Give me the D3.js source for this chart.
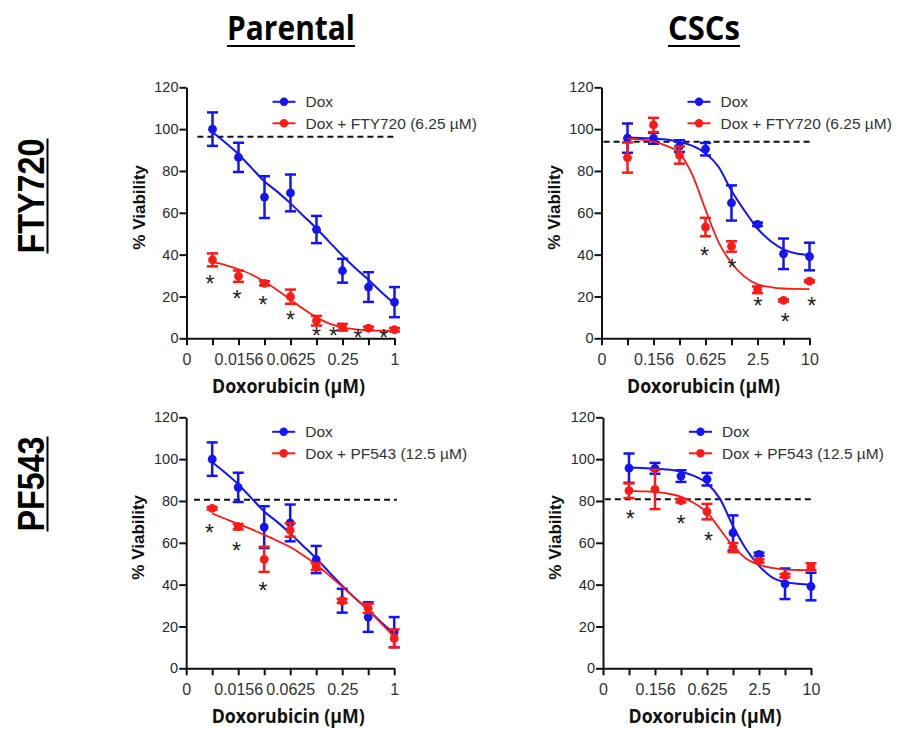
<!DOCTYPE html>
<html>
<head>
<meta charset="utf-8">
<script src="https://cdn.jsdelivr.net/npm/d3@7"></script>
<style>
body { margin: 0; background: #fff; }
text { font-family: 'Liberation Sans', Arial, sans-serif; }
</style>
</head>
<body>
<div id="chart"></div>
<script>

// doses (µM), one doubling per step
var doseParental = [0.0078125, 0.015625, 0.03125, 0.0625, 0.125, 0.25, 0.5, 1];
var doseCSC = [0.078125, 0.15625, 0.3125, 0.625, 1.25, 2.5, 5, 10];

// tick labels, first one sits at the "zero" position
var tickParental = ['0', '', '0.0156', '', '0.0625', '', '0.25', '', '1'];
var tickCSC = ['0', '', '0.156', '', '0.625', '', '2.5', '', '10'];

// mean % viability and error
var doxParental = [100, 86.5, 67.5, 69.5, 52, 32.3, 24.5, 17.3];
var doxParentalErr = [8, 7, 10, 8.8, 6.5, 5.7, 7.1, 7.2];
var fty720Parental = [37.5, 29.7, 26.3, 19.9, 8.4, 5.3, 4.8, 4.1];
var fty720ParentalErr = [3.1, 2.7, 1, 3.4, 2.3, 1.6, 0.8, 0.8];
var pf543Parental = [76.5, 67.7, 52.1, 66.1, 48.6, 32.2, 28.7, 14.3];
var pf543ParentalErr = [0.6, 1.3, 6, 3.2, 1.6, 1, 2.2, 4.3];

var doxCSC = [95.7, 95.6, 91.9, 90.4, 64.7, 54.5, 40.4, 39.1];
var doxCSCErr = [7, 2.6, 2.8, 3, 8.4, 0.8, 7.3, 6.6];
var fty720CSC = [86.4, 102, 87.6, 53.2, 43.9, 23.2, 18.1, 27.3];
var fty720CSCErr = [7.2, 3.4, 4.1, 4.4, 2.5, 1.6, 0.5, 0.5];
var pf543CSC = [84.9, 85.5, 80.1, 74.9, 57.7, 51.3, 44.3, 48.6];
var pf543CSCErr = [3.5, 9.4, 0.8, 3.7, 2.2, 0.8, 0.8, 1.6];

// fitted curves, every half step from first to last dose
var fitDoxParental = [98.5, 93.5, 88, 81.5, 75, 70, 64.5, 58.5, 52.5, 46, 39.5, 33.5, 28, 22, 16.5];
var fitFty720Parental = [36.5, 35, 33, 30.5, 27, 23, 18.5, 14, 10, 7, 5.2, 4.3, 3.8, 3.6, 3.5];
var fitPf543Parental = [74, 71.5, 69, 66.5, 63.8, 61, 58, 54, 49.5, 44.5, 39, 33.5, 27.8, 21.5, 15];
var fitDoxCSC1 = [96, 95.8, 95.5, 95, 93.8, 92, 88.5, 82, 70.5, 61, 52.5, 46.5, 42.5, 40.5, 39.8];
var fitFty720CSC = [95.5, 95, 94, 92, 88.5, 78, 61.5, 46, 36, 29.5, 25.8, 24.5, 23.8, 23.6, 23.5];
var fitDoxCSC2 = [96, 95.8, 95.5, 95, 94, 92, 88.5, 81, 68, 57, 49, 43.5, 41.2, 40.4, 40];
var fitPf543CSC = [84.8, 84.6, 84.3, 83.5, 82, 79, 74.5, 66.5, 58.5, 52.5, 49.5, 48, 47.2, 47, 46.8];

// significance marks [dose step (1 = first dose), % viability]
var starsA = [[0.9, 28.2], [1.94, 21.2], [2.94, 18.6], [4, 11.2], [5, 3.7], [5.65, 3.7], [6.6, 2.4], [7.59, 2.4]];
var starsB = [[3.96, 41.9], [5.02, 36], [6.02, 17.7], [7.07, 10.4], [8.09, 18.1]];
var starsC = [[0.9, 67.3], [1.93, 58.5], [2.95, 39.4]];
var starsD = [[1.05, 73.8], [3, 71.2], [4.06, 63.3]];

// dashed reference line [level, from step, to step]
var cutoffA = [96.4, 0.42, 8.07];
var cutoffB = [94, 0.08, 8.1];
var cutoffC = [80.6, 0.3, 8.1];
var cutoffD = [80.8, 0.07, 8.1];

var blue = '#1414f5';
var red = '#ff1a1a';

var svg = d3.select('#chart').append('svg')
    .attr('width', 897)
    .attr('height', 733);

// panel size
var pWidth = 208;
var pHeight = 251;

var panels = [
    {left: 186.5, top: 87.3, dose: doseParental, ticks: tickParental,
     a: doxParental, aErr: doxParentalErr, aFit: fitDoxParental,
     b: fty720Parental, bErr: fty720ParentalErr, bFit: fitFty720Parental,
     bName: 'Dox + FTY720 (6.25 µM)', stars: starsA, cutoff: cutoffA},
    {left: 601.5, top: 87.3, dose: doseCSC, ticks: tickCSC,
     a: doxCSC, aErr: doxCSCErr, aFit: fitDoxCSC1,
     b: fty720CSC, bErr: fty720CSCErr, bFit: fitFty720CSC,
     bName: 'Dox + FTY720 (6.25 µM)', stars: starsB, cutoff: cutoffB},
    {left: 186.2, top: 417.3, dose: doseParental, ticks: tickParental,
     a: doxParental, aErr: doxParentalErr, aFit: fitDoxParental,
     b: pf543Parental, bErr: pf543ParentalErr, bFit: fitPf543Parental,
     bName: 'Dox + PF543 (12.5 µM)', stars: starsC, cutoff: cutoffC},
    {left: 603, top: 417.3, dose: doseCSC, ticks: tickCSC,
     a: doxCSC, aErr: doxCSCErr, aFit: fitDoxCSC2,
     b: pf543CSC, bErr: pf543CSCErr, bFit: fitPf543CSC,
     bName: 'Dox + PF543 (12.5 µM)', stars: starsD, cutoff: cutoffD}
];

panels.forEach(drawPanel);

function drawPanel(p) {
    var g = svg.append('g')
        .attr('transform', `translate(${p.left}, ${p.top})`);

    var d0 = p.dose[0];
    var xScale = d3.scaleLog().base(2)
        .domain([d0 / 2, p.dose[p.dose.length - 1]])
        .range([0, pWidth]);
    var yScale = d3.scaleLinear()
        .domain([0, 120])
        .range([pHeight, 0]);

    // step number -> dose
    var stepDose = s => d0 * Math.pow(2, s - 1);

    var tickVals = [d0 / 2].concat(p.dose);

    var xAxis = d3.axisBottom(xScale)
        .tickValues(tickVals)
        .tickFormat((d, i) => p.ticks[i])
        .tickSize(7)
        .tickSizeOuter(0);
    var yAxis = d3.axisLeft(yScale)
        .tickValues([0, 20, 40, 60, 80, 100, 120])
        .tickSize(7)
        .tickSizeOuter(0);

    var gx = g.append('g')
        .attr('transform', `translate(0, ${pHeight})`)
        .call(xAxis);
    gx.selectAll('text')
        .attr('dy', '1.05em')
        .style('font-size', '16px')
        .style('fill', '#333');

    var gy = g.append('g').call(yAxis);
    gy.selectAll('text')
        .attr('x', -8)
        .style('font-size', '14.5px')
        .style('fill', '#2a2a2a');

    g.selectAll('.domain, .tick line')
        .attr('stroke', '#111')
        .attr('stroke-width', 2);

    // axis titles
    g.append('text')
        .attr('transform', 'rotate(-90)')
        .attr('x', -120)
        .attr('y', -42)
        .attr('text-anchor', 'middle')
        .style('font-size', '17px')
        .style('font-weight', 'bold')
        .style('fill', '#111')
        .text('% Viability');

    g.append('text')
        .attr('x', pWidth / 2 - 2)
        .attr('y', pHeight + 55)
        .attr('text-anchor', 'middle')
        .attr('textLength', 153)
        .attr('lengthAdjust', 'spacingAndGlyphs')
        .style('font-family', "'Open Sans', sans-serif")
        .style('font-size', '19.5px')
        .style('font-weight', 'bold')
        .style('fill', '#111')
        .text('Doxorubicin (µM)');

    // dashed line
    g.append('line')
        .attr('x1', xScale(stepDose(p.cutoff[1])))
        .attr('x2', xScale(stepDose(p.cutoff[2])))
        .attr('y1', yScale(p.cutoff[0]))
        .attr('y2', yScale(p.cutoff[0]))
        .attr('stroke', '#111')
        .attr('stroke-width', 2)
        .attr('stroke-dasharray', '6,4');

    var line = d3.line()
        .x((d, i) => xScale(d0 * Math.pow(2, i / 2)))
        .y(d => yScale(d))
        .curve(d3.curveMonotoneX);

    // one series: curve, error bars, points
    function series(vals, errs, fit, color, width) {
        g.append('path')
            .datum(fit)
            .attr('d', line)
            .attr('fill', 'none')
            .attr('stroke', color)
            .attr('stroke-width', width);

        var bars = g.append('g').selectAll('g')
            .data(vals)
            .enter()
            .append('g')
            .attr('stroke', color)
            .attr('stroke-width', 2.5);
        bars.append('line')
            .attr('x1', (d, i) => xScale(p.dose[i]))
            .attr('x2', (d, i) => xScale(p.dose[i]))
            .attr('y1', (d, i) => yScale(d + errs[i]))
            .attr('y2', (d, i) => yScale(d - errs[i]));
        bars.append('line')
            .attr('x1', (d, i) => xScale(p.dose[i]) - 5.5)
            .attr('x2', (d, i) => xScale(p.dose[i]) + 5.5)
            .attr('y1', (d, i) => yScale(d + errs[i]))
            .attr('y2', (d, i) => yScale(d + errs[i]));
        bars.append('line')
            .attr('x1', (d, i) => xScale(p.dose[i]) - 5.5)
            .attr('x2', (d, i) => xScale(p.dose[i]) + 5.5)
            .attr('y1', (d, i) => yScale(d - errs[i]))
            .attr('y2', (d, i) => yScale(d - errs[i]));

        g.append('g').selectAll('circle')
            .data(vals)
            .enter()
            .append('circle')
            .attr('cx', (d, i) => xScale(p.dose[i]))
            .attr('cy', d => yScale(d))
            .attr('r', 4.4)
            .attr('fill', color);
    }

    series(p.a, p.aErr, p.aFit, blue, 2);
    series(p.b, p.bErr, p.bFit, red, 1.8);

    // asterisks
    g.selectAll('.star')
        .data(p.stars)
        .enter()
        .append('text')
        .attr('class', 'star')
        .attr('x', d => xScale(stepDose(d[0])))
        .attr('y', d => yScale(d[1]))
        .attr('dy', '0.57em')
        .attr('text-anchor', 'middle')
        .style('font-size', '23px')
        .style('fill', '#222')
        .text('*');

    // legend
    var legend = [['Dox', blue], [p.bName, red]];
    var lg = g.selectAll('.leg')
        .data(legend)
        .enter()
        .append('g')
        .attr('class', 'leg')
        .attr('transform', (d, i) => `translate(86, ${14.5 + i * 21.5})`);
    lg.append('line')
        .attr('x1', 0)
        .attr('x2', 23)
        .attr('stroke', d => d[1])
        .attr('stroke-width', 2);
    lg.append('circle')
        .attr('cx', 11.5)
        .attr('r', 4.2)
        .attr('fill', d => d[1]);
    lg.append('text')
        .attr('x', 33)
        .attr('dy', '0.36em')
        .style('font-size', '15.5px')
        .style('fill', '#333')
        .text(d => d[0]);
}

// column titles
var cols = [['Parental', 291, 128], ['CSCs', 704, 72]];
cols.forEach(function (c) {
    svg.append('text')
        .attr('x', c[1])
        .attr('y', 40)
        .attr('text-anchor', 'middle')
        .attr('textLength', c[2])
        .attr('lengthAdjust', 'spacingAndGlyphs')
        .style('font-family', "'Open Sans', sans-serif")
        .style('font-size', '34px')
        .style('font-weight', 'bold')
        .text(c[0]);
    svg.append('line')
        .attr('x1', c[1] - c[2] / 2)
        .attr('x2', c[1] + c[2] / 2)
        .attr('y1', 46)
        .attr('y2', 46)
        .attr('stroke', '#000')
        .attr('stroke-width', 2);
});

// row titles
var rows = [['FTY720', 196, 115], ['PF543', 484, 95]];
rows.forEach(function (r) {
    svg.append('text')
        .attr('transform', `translate(43.5, ${r[1]}) rotate(-90)`)
        .attr('text-anchor', 'middle')
        .attr('textLength', r[2])
        .attr('lengthAdjust', 'spacingAndGlyphs')
        .style('font-size', '37px')
        .style('font-weight', 'bold')
        .text(r[0]);
    svg.append('line')
        .attr('x1', 47.5)
        .attr('x2', 47.5)
        .attr('y1', r[1] - r[2] / 2)
        .attr('y2', r[1] + r[2] / 2)
        .attr('stroke', '#000')
        .attr('stroke-width', 2);
});

</script>
</body>
</html>
